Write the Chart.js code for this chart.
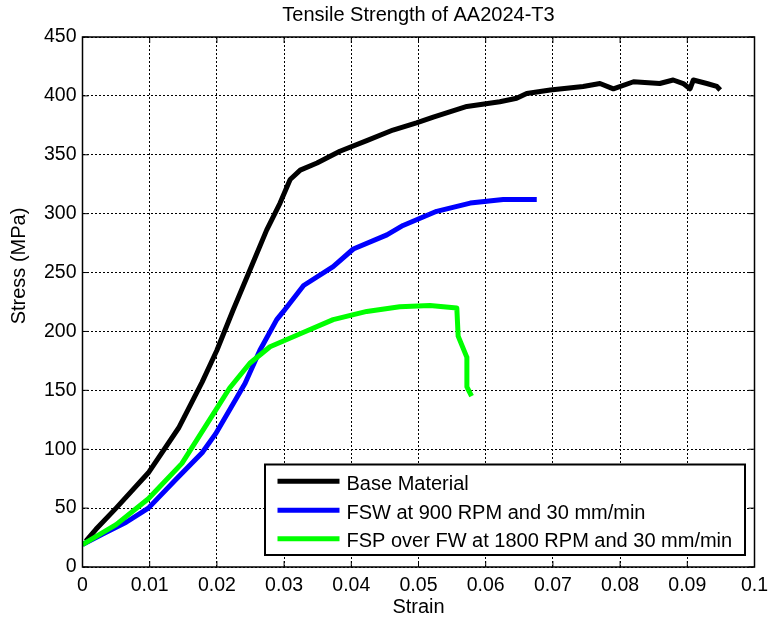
<!DOCTYPE html>
<html><head><meta charset="utf-8">
<script src="https://cdn.jsdelivr.net/npm/chart.js@4.4.0/dist/chart.umd.min.js"></script>
<style>html,body{margin:0;padding:0;background:#fff}#wrap{width:768px;height:622px;position:relative}</style>
</head><body><div id="wrap"><canvas id="c" width="768" height="622"></canvas></div>
<script>
const FONT = '"Liberation Sans", Arial, Helvetica, sans-serif';
const FS = 19.5;
const FS_T = 20;

const chartTitle = 'Tensile Strength of AA2024-T3';
const xTitle = 'Strain';
const yTitle = 'Stress (MPa)';
const seriesNames = ['Base Material', 'FSW at 900 RPM and 30 mm/min', 'FSP over FW at 1800 RPM and 30 mm/min'];
const seriesColors = ['#000000', '#0000ff', '#00ff00'];

const baseStrain = [0.0005,0.002,0.005,0.0098,0.0143,0.0178,0.0200,0.0224,0.0249,0.0274,0.0294,0.0309,0.0324,0.0349,0.0383,0.0423,0.0462,0.0497,0.0522,0.0572,0.0621,0.0646,0.0661,0.0696,0.0745,0.0770,0.0790,0.0820,0.0859,0.0879,0.0894,0.0904,0.0909,0.0929,0.0944,0.0949];
const baseStress = [22,32,50,80,118,157,184,218,252,286,309,329,337,343,353,362,371,377,382,391,395,398,402,405,408,410.5,406,412,410.5,413.5,410.5,406,413.5,410.5,408,405];

const fswStrain = [0,0.003,0.0065,0.0098,0.0140,0.0178,0.0198,0.0242,0.0264,0.0289,0.0299,0.0329,0.0373,0.0403,0.0453,0.0477,0.0527,0.0577,0.0626,0.0676];
const fswStress = [19,28,38,50,75,97,113,156,184,210,217,239,255,270,282,290,302,309,312,312];

const fspStrain = [0,0.005,0.0098,0.0148,0.0198,0.0219,0.0249,0.0279,0.0324,0.0373,0.0423,0.0472,0.0517,0.0557,0.0559,0.0572,0.0572,0.0579];
const fspStress = [19,36,58,88,133,152,173,187,198,210,217,221,222,220,196,178,153,145];

const xTicks = [0,0.01,0.02,0.03,0.04,0.05,0.06,0.07,0.08,0.09,0.1];
const yTicks = [0,50,100,150,200,250,300,350,400,450];

function pts(xs, ys){ return xs.map((x,i)=>({x:x, y:ys[i]})); }

const allX = [baseStrain, fswStrain, fspStrain];
const allY = [baseStress, fswStress, fspStress];

const datasets = seriesNames.map((n,i)=>({
  label: n,
  data: pts(allX[i], allY[i]),
  borderColor: seriesColors[i],
  backgroundColor: seriesColors[i],
  borderWidth: 5,
  pointRadius: 0,
  showLine: true,
  tension: 0,
  borderJoinStyle: 'round',
  borderCapStyle: 'butt',
  order: 2 - i
}));

const framePlugin = {
  id: 'frame',
  afterDraw(chart){
    const ctx = chart.ctx;
    const {left, right, top, bottom} = chart.chartArea;
    const xs = chart.scales.x, ys = chart.scales.y;
    ctx.save();
    ctx.strokeStyle = '#000';
    ctx.lineWidth = 1;
    ctx.beginPath();
    const TL = 6;
    xTicks.forEach(v=>{
      const p = xs.getPixelForValue(v);
      ctx.moveTo(p, bottom); ctx.lineTo(p, bottom - TL);
      ctx.moveTo(p, top); ctx.lineTo(p, top + TL);
    });
    yTicks.forEach(v=>{
      const p = ys.getPixelForValue(v);
      ctx.moveTo(left, p); ctx.lineTo(left + TL, p);
      ctx.moveTo(right, p); ctx.lineTo(right - TL, p);
    });
    ctx.stroke();
    ctx.lineWidth = 1.5;
    ctx.strokeRect(left, top, right - left, bottom - top);

    ctx.fillStyle = '#000';
    ctx.font = FS_T + 'px ' + FONT;
    ctx.textAlign = 'center';
    ctx.textBaseline = 'middle';
    ctx.fillText(chartTitle, (left + right) / 2, 15);
    ctx.fillText(xTitle, (left + right) / 2, 607);
    ctx.save();
    ctx.translate(19, 266);
    ctx.rotate(-Math.PI / 2);
    ctx.fillText(yTitle, 0, 0);
    ctx.restore();

    const lx = 265, ly = 464.5, lw = 480, lh = 90.5;
    ctx.fillStyle = '#fff';
    ctx.fillRect(lx, ly, lw, lh);
    ctx.lineWidth = 2;
    ctx.strokeStyle = '#000';
    ctx.strokeRect(lx, ly, lw, lh);
    const rows = [484.3, 513.2, 541.7];
    seriesNames.forEach((n,i)=>{
      ctx.strokeStyle = seriesColors[i];
      ctx.lineWidth = 5;
      ctx.beginPath();
      ctx.moveTo(277.5, rows[i] - 3);
      ctx.lineTo(339.5, rows[i] - 3);
      ctx.stroke();
      ctx.fillStyle = '#000';
      ctx.textAlign = 'left';
      ctx.textBaseline = 'middle';
      ctx.fillText(n, 346.5, rows[i]);
    });
    ctx.restore();
  }
};

new Chart(document.getElementById('c'), {
  type: 'scatter',
  data: { datasets },
  options: {
    responsive: false,
    animation: false,
    devicePixelRatio: 1,
    layout: { padding: { left: 0, right: 13.5, top: 37, bottom: 0 } },
    plugins: { legend: { display: false }, title: { display: false }, tooltip: { enabled: false } },
    scales: {
      x: {
        type: 'linear', min: 0, max: 0.1,
        afterFit(s){ s.height = 55; s.paddingLeft = 0; s.paddingRight = 0; },
        afterBuildTicks(s){ s.ticks = xTicks.map(v=>({value:v})); },
        ticks: { color: '#000', font: { family: FONT, size: FS }, padding: 7, maxRotation: 0,
          callback: v => String(+v.toFixed(2)) },
        grid: { color: '#000', lineWidth: 1, drawTicks: false },
        border: { display: false, dash: [2, 2] }
      },
      y: {
        type: 'linear', min: 0, max: 450,
        afterFit(s){ s.width = 82.5; s.paddingTop = 0; s.paddingBottom = 0; },
        afterBuildTicks(s){ s.ticks = yTicks.map(v=>({value:v})); },
        ticks: { color: '#000', font: { family: FONT, size: FS }, padding: 6,
          callback: v => String(v) },
        grid: { color: '#000', lineWidth: 1, drawTicks: false },
        border: { display: false, dash: [2, 2] }
      }
    }
  },
  plugins: [framePlugin]
});
</script>
</body></html>
